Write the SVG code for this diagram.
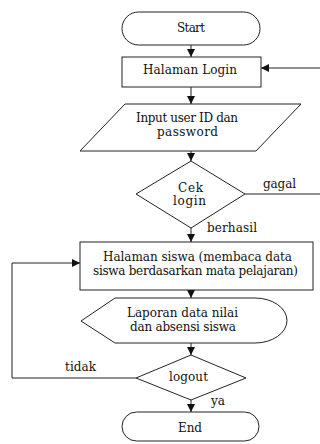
<svg xmlns="http://www.w3.org/2000/svg" width="320" height="444" viewBox="0 0 320 444">
<style>
.s{fill:#fff;stroke:#222;stroke-width:1}
.c{fill:none;stroke:#222;stroke-width:1;marker-end:url(#ah)}
text{font-family:"DejaVu Serif","Liberation Serif",serif;font-size:12px;fill:#111}
.m{text-anchor:middle}
</style>
<defs>
<marker id="ah" markerUnits="userSpaceOnUse" markerWidth="8" markerHeight="8" refX="8" refY="4" orient="auto">
<path d="M0,0 L8,4 L0,8 z" fill="#111"/>
</marker>
</defs>
<rect width="320" height="444" fill="#fff"/>
<g id="connectors">
<path class="c" d="M191,45 V57"/>
<path class="c" d="M191,87 V104"/>
<path class="c" d="M191,151 V161"/>
<path class="c" d="M191,228 V242"/>
<path class="c" d="M191,290 V298"/>
<path class="c" d="M191,343 V355"/>
<path class="c" d="M191,400 V412"/>
<path class="c" d="M245,194 H323 V68 H261"/>
<path class="c" d="M136,378 H12 V263 H80"/>
<text x="263" y="188" textLength="33">gagal</text>
<text x="207" y="232" textLength="50">berhasil</text>
<text x="65" y="371" textLength="31">tidak</text>
<text x="211" y="405" textLength="14">ya</text>
</g>
<g id="start">
<rect class="s" x="122" y="12" width="138" height="33" rx="16.5"/>
<text class="m" x="191" y="32" textLength="28">Start</text>
</g>
<g id="halaman-login">
<rect class="s" x="122" y="57" width="139" height="30"/>
<text class="m" x="190" y="73.5" textLength="94">Halaman Login</text>
</g>
<g id="input-login">
<polygon class="s" points="125,104 301,104 256,151 80,151"/>
<text class="m" x="187" y="122" textLength="102">Input user ID dan</text>
<text class="m" x="187.5" y="135.5" textLength="61">password</text>
</g>
<g id="cek-login">
<polygon class="s" points="191,161 245,194 191,228 136,194"/>
<text class="m" x="190.5" y="192" textLength="25">Cek</text>
<text class="m" x="189.5" y="205" textLength="33">login</text>
</g>
<g id="halaman-siswa">
<rect class="s" x="80" y="242" width="233" height="48"/>
<text class="m" x="197.5" y="261" textLength="189">Halaman siswa (membaca data</text>
<text class="m" x="195.5" y="275" textLength="205">siswa berdasarkan mata pelajaran)</text>
</g>
<g id="laporan">
<path class="s" d="M81,321 L115,298 H255 A32,22.5 0 0 1 255,343 H115 Z"/>
<text class="m" x="182.5" y="317" textLength="111">Laporan data nilai</text>
<text class="m" x="183" y="331" textLength="106">dan absensi siswa</text>
</g>
<g id="logout">
<polygon class="s" points="191,355 246,378 191,400 136,378"/>
<text class="m" x="188.5" y="381" textLength="39">logout</text>
</g>
<g id="end">
<rect class="s" x="122" y="412" width="137" height="29" rx="14.5"/>
<text class="m" x="190" y="432" textLength="24">End</text>
</g>
</svg>
